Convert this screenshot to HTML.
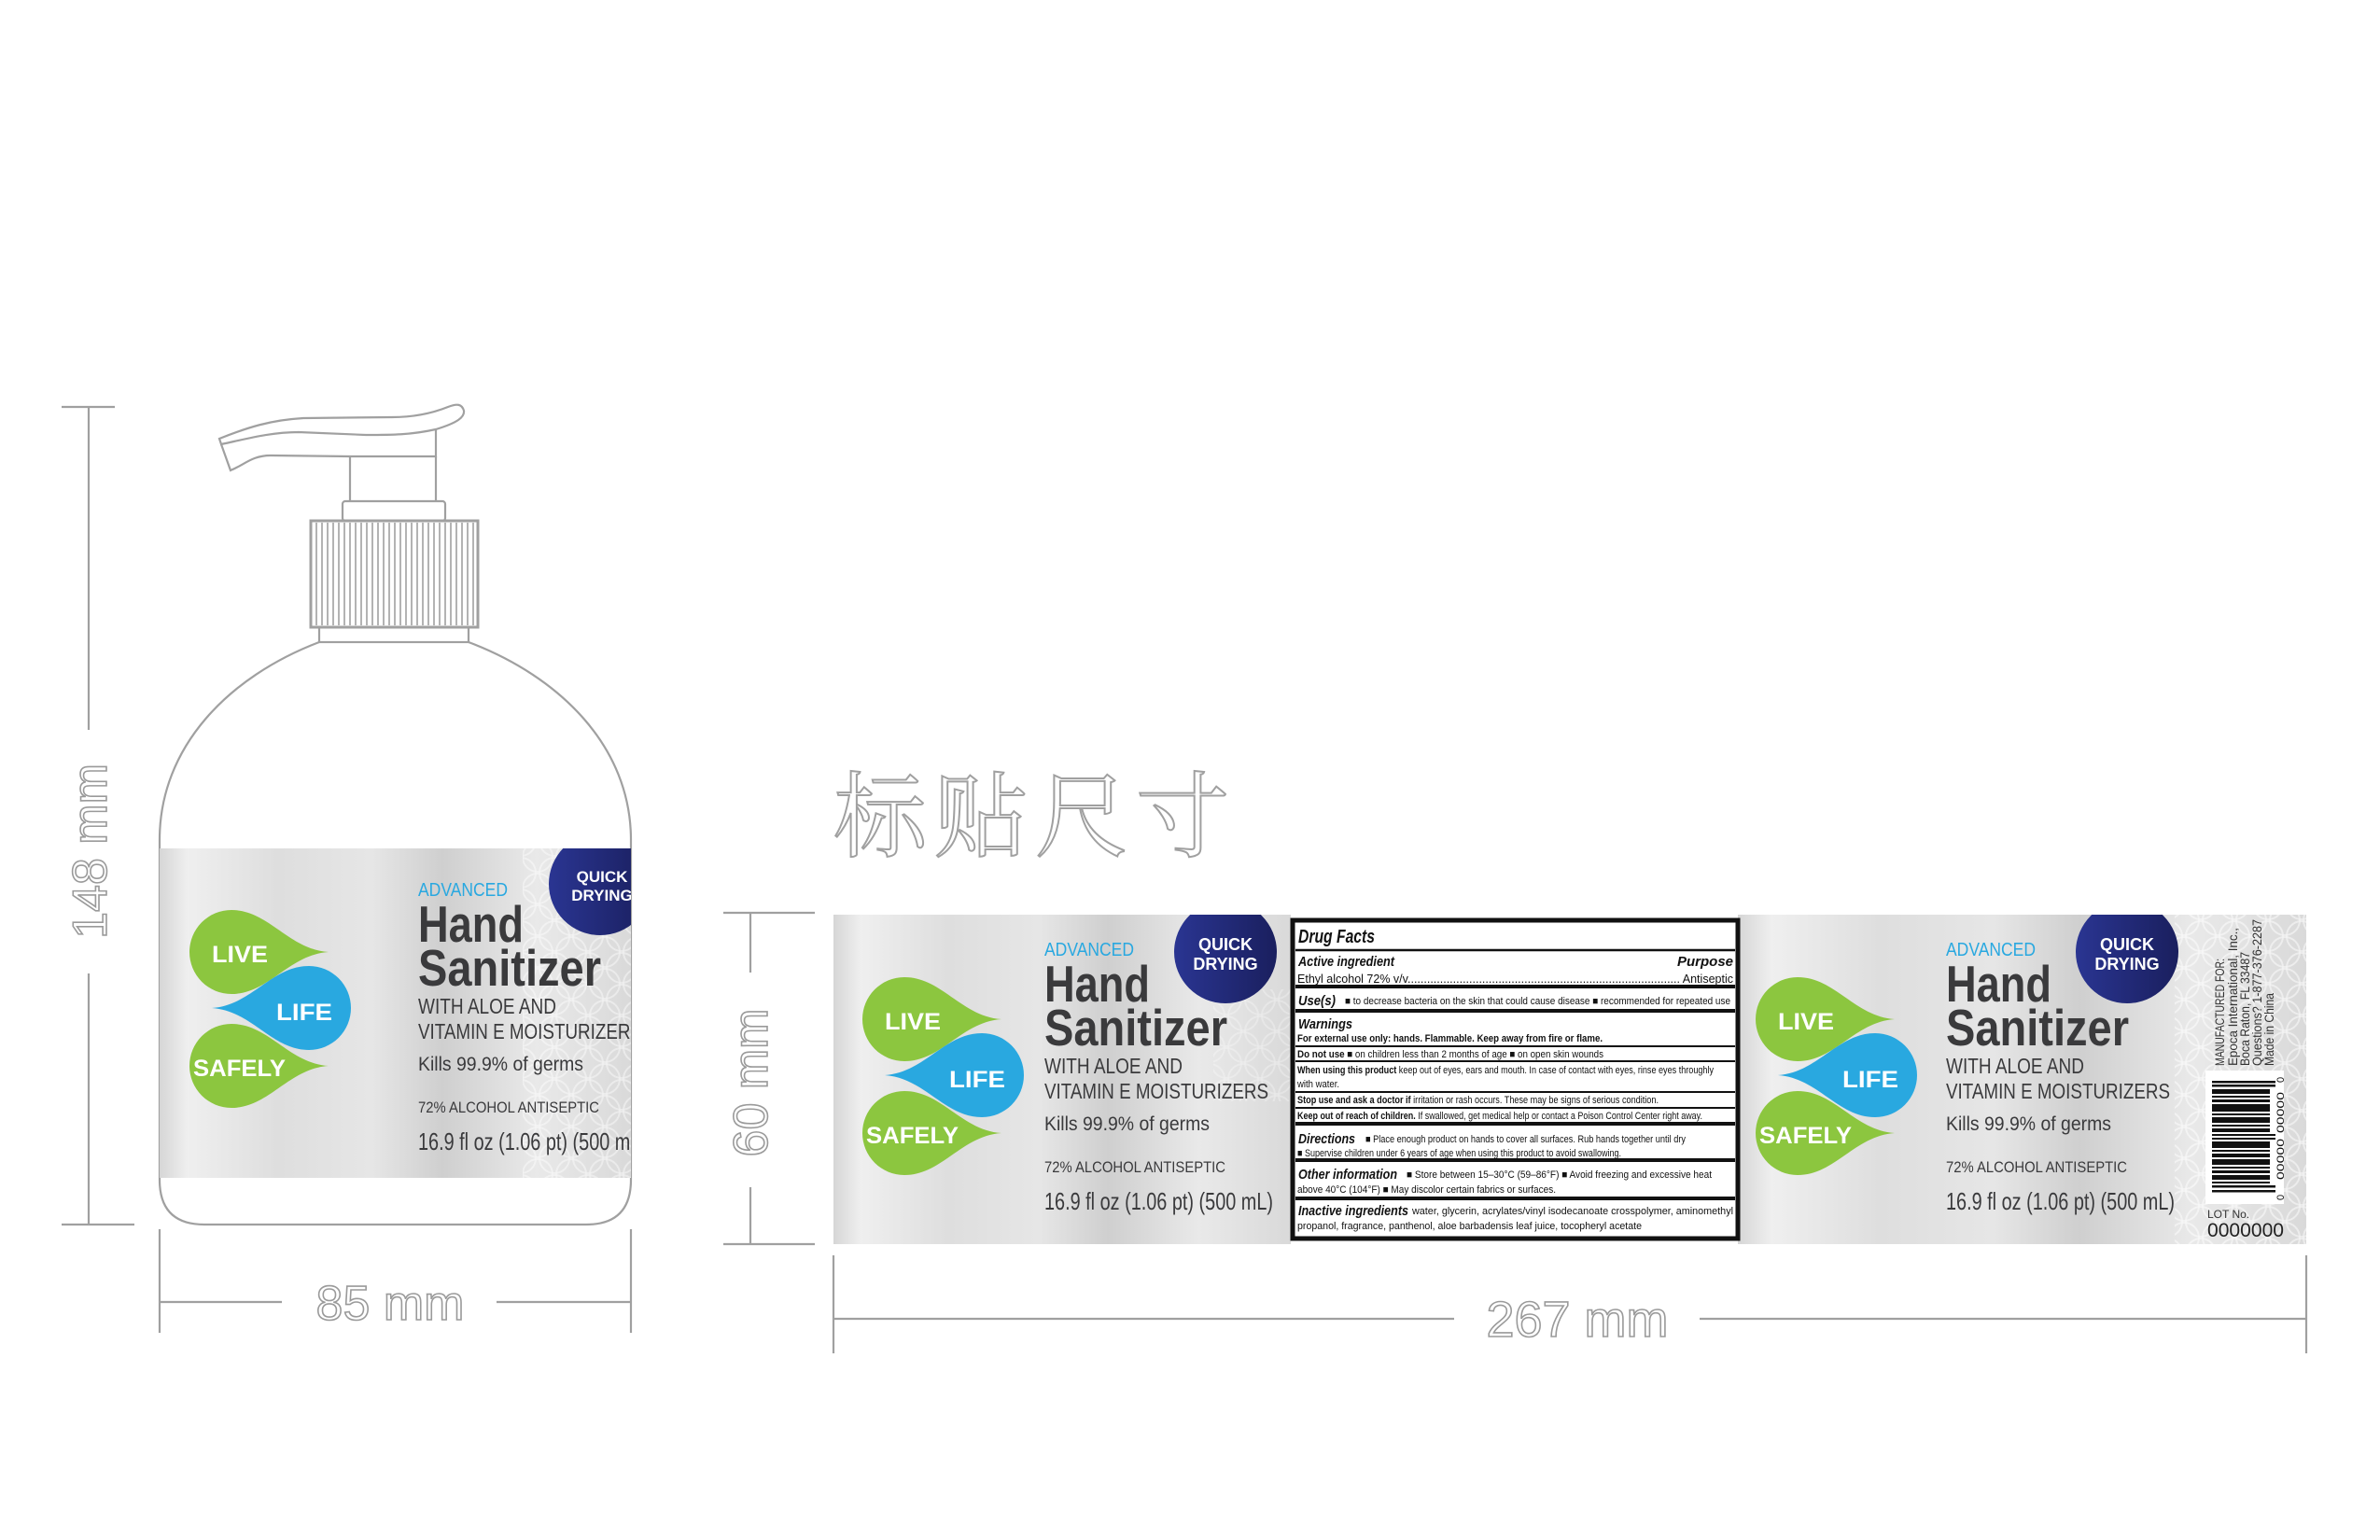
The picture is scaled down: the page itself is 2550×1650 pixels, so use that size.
<!DOCTYPE html>
<html><head><meta charset="utf-8"><style>
html,body{margin:0;padding:0;background:#fff;}
svg{display:block;}
.dim{stroke:#a0a0a0;stroke-width:2.2;fill:none;}
.dt{fill:#fff;stroke:#9a9a9a;stroke-width:1.6;font-family:"Liberation Sans",sans-serif;}
.df{font-family:"Liberation Sans Narrow","Liberation Sans",sans-serif;fill:#111;}
.lb{font-family:"Liberation Sans",sans-serif;fill:#3a3a3c;}
</style></head><body>
<svg width="2550" height="1650" viewBox="0 0 2550 1650" xmlns="http://www.w3.org/2000/svg">
<defs>
<linearGradient id="g1" x1="0" x2="1" y1="0" y2="0">
<stop offset="0" stop-color="#d6d6d6"/><stop offset="0.06" stop-color="#efefef"/>
<stop offset="0.25" stop-color="#dedede"/><stop offset="0.45" stop-color="#e6e6e6"/>
<stop offset="0.6" stop-color="#cfcfcf"/><stop offset="0.8" stop-color="#e9e9e9"/>
<stop offset="1" stop-color="#d9d9d9"/></linearGradient>
<linearGradient id="navy" x1="0" x2="1" y1="0" y2="0"><stop offset="0" stop-color="#2a3592"/><stop offset="1" stop-color="#1a1f5e"/></linearGradient>
<pattern id="hex" width="36" height="34" patternUnits="userSpaceOnUse">
<circle cx="18" cy="17" r="16" fill="none" stroke="#fff" stroke-width="2" opacity="0.7"/>
<circle cx="0" cy="0" r="16" fill="none" stroke="#fff" stroke-width="2" opacity="0.7"/>
<circle cx="36" cy="0" r="16" fill="none" stroke="#fff" stroke-width="2" opacity="0.7"/>
<circle cx="0" cy="34" r="16" fill="none" stroke="#fff" stroke-width="2" opacity="0.7"/>
<circle cx="36" cy="34" r="16" fill="none" stroke="#fff" stroke-width="2" opacity="0.7"/>
</pattern>
<clipPath id="bclip"><rect x="171" y="909" width="505" height="353"/></clipPath>
<clipPath id="sclip"><rect x="893" y="980" width="1578" height="353"/></clipPath>
</defs>

<!-- ===== Bottle ===== -->
<line class="dim" x1="66" y1="436" x2="123" y2="436"/>
<line class="dim" x1="66" y1="1312" x2="144" y2="1312"/>
<line class="dim" x1="95" y1="436" x2="95" y2="782"/>
<line class="dim" x1="95" y1="1043" x2="95" y2="1312"/>
<text class="dt" font-size="52" text-anchor="middle" transform="translate(114,912) rotate(-90)">148 mm</text>
<line class="dim" x1="171" y1="1317" x2="171" y2="1428"/>
<line class="dim" x1="676" y1="1317" x2="676" y2="1428"/>
<line class="dim" x1="171" y1="1395" x2="302" y2="1395"/>
<line class="dim" x1="532" y1="1395" x2="676" y2="1395"/>
<text class="dt" font-size="52" text-anchor="middle" x="418" y="1414">85 mm</text>

<!-- pump -->
<g class="dim" stroke-width="2.4">
<path d="M235,470 C265,458 290,450 325,448 L420,447 C450,447 470,440 480,436 C490,432 495,433 497,440 C498,447 490,453 467,460 C440,466 420,466 392,466 L320,463 C290,463 265,470 237,476 Z"/>
<path d="M237,476 L247,504 C262,498 270,488 290,488 L375,489 L467,489 L467,460"/>
<path d="M375,489 L375,537 M467,489 L467,537"/>
<rect x="367" y="537" width="110" height="21" rx="3"/>
<rect x="333" y="558" width="179" height="114" stroke-width="3"/>
<rect x="342" y="672" width="160" height="16"/>
</g>
<g stroke="#a0a0a0" stroke-width="1.6">
<line x1="339" y1="560" x2="339" y2="670"/><line x1="345" y1="560" x2="345" y2="670"/><line x1="351" y1="560" x2="351" y2="670"/><line x1="357" y1="560" x2="357" y2="670"/><line x1="363" y1="560" x2="363" y2="670"/><line x1="369" y1="560" x2="369" y2="670"/><line x1="375" y1="560" x2="375" y2="670"/><line x1="381" y1="560" x2="381" y2="670"/><line x1="387" y1="560" x2="387" y2="670"/><line x1="393" y1="560" x2="393" y2="670"/><line x1="399" y1="560" x2="399" y2="670"/><line x1="405" y1="560" x2="405" y2="670"/><line x1="411" y1="560" x2="411" y2="670"/><line x1="417" y1="560" x2="417" y2="670"/><line x1="423" y1="560" x2="423" y2="670"/><line x1="429" y1="560" x2="429" y2="670"/><line x1="435" y1="560" x2="435" y2="670"/><line x1="441" y1="560" x2="441" y2="670"/><line x1="447" y1="560" x2="447" y2="670"/><line x1="453" y1="560" x2="453" y2="670"/><line x1="459" y1="560" x2="459" y2="670"/><line x1="465" y1="560" x2="465" y2="670"/><line x1="471" y1="560" x2="471" y2="670"/><line x1="477" y1="560" x2="477" y2="670"/><line x1="483" y1="560" x2="483" y2="670"/><line x1="489" y1="560" x2="489" y2="670"/><line x1="495" y1="560" x2="495" y2="670"/><line x1="501" y1="560" x2="501" y2="670"/><line x1="507" y1="560" x2="507" y2="670"/>
</g>
<path class="dim" d="M342,688 C245,725 171,800 171,900 L171,1264 Q171,1312 219,1312 L628,1312 Q676,1312 676,1264 L676,900 C676,800 600,725 502,688"/>

<!-- bottle label -->
<g clip-path="url(#bclip)">
<rect x="171" y="909" width="505" height="353" fill="url(#g1)"/>
<rect x="560" y="909" width="116" height="353" fill="url(#hex)" opacity="0.6"/>
<g transform="translate(-721,-72)">
<path d="M924,1092 A45,45 0 0 1 969,1047 C1009,1047 1030,1089 1073,1092 C1030,1095 1009,1137 969,1137 A45,45 0 0 1 924,1092 Z" fill="#8cc63f"/>
<path d="M1097,1152 A45,45 0 0 0 1052,1107 C1012,1107 991,1149 948,1152 C991,1155 1012,1197 1052,1197 A45,45 0 0 0 1097,1152 Z" fill="#29a8e0"/>
<path d="M924,1214 A45,45 0 0 1 969,1169 C1009,1169 1030,1211 1073,1214 C1030,1217 1009,1259 969,1259 A45,45 0 0 1 924,1214 Z" fill="#8cc63f"/>
<g font-family="Liberation Sans,sans-serif" font-weight="bold" fill="#fff" font-size="25">
<text x="948" y="1103" textLength="60" lengthAdjust="spacingAndGlyphs">LIVE</text>
<text x="1017" y="1165" textLength="60" lengthAdjust="spacingAndGlyphs">LIFE</text>
<text x="928" y="1225" textLength="99" lengthAdjust="spacingAndGlyphs">SAFELY</text>
</g></g>
<g transform="translate(-671,-64)" class="lb">
<text x="1119" y="1024" font-size="20" fill="#29a8e0" textLength="96" lengthAdjust="spacingAndGlyphs">ADVANCED</text>
<text x="1119" y="1073" font-size="55" font-weight="bold" textLength="113" lengthAdjust="spacingAndGlyphs">Hand</text>
<text x="1119" y="1120" font-size="55" font-weight="bold" textLength="196" lengthAdjust="spacingAndGlyphs">Sanitizer</text>
<text x="1119" y="1150" font-size="23" textLength="148" lengthAdjust="spacingAndGlyphs">WITH ALOE AND</text>
<text x="1119" y="1177" font-size="23" textLength="240" lengthAdjust="spacingAndGlyphs">VITAMIN E MOISTURIZERS</text>
<text x="1119" y="1211" font-size="21" textLength="177" lengthAdjust="spacingAndGlyphs">Kills 99.9% of germs</text>
<text x="1119" y="1256" font-size="17" textLength="194" lengthAdjust="spacingAndGlyphs">72% ALCOHOL ANTISEPTIC</text>
<text x="1119" y="1296" font-size="26" textLength="245" lengthAdjust="spacingAndGlyphs">16.9 fl oz (1.06 pt) (500 mL)</text>
</g>
<circle cx="643" cy="947" r="55" fill="url(#navy)"/>
<g font-family="Liberation Sans,sans-serif" font-weight="bold" fill="#fff" font-size="17" text-anchor="middle">
<text x="645" y="945">QUICK</text><text x="645" y="965">DRYING</text></g>
</g>

<!-- Chinese title -->
<text x="893" y="910" font-family="'Noto Serif CJK SC',serif" font-size="100" letter-spacing="8" fill="#fff" stroke="#a0a0a0" stroke-width="2">标贴尺寸</text>

<!-- ===== Strip dims ===== -->
<line class="dim" x1="775" y1="978" x2="873" y2="978"/>
<line class="dim" x1="775" y1="1333" x2="873" y2="1333"/>
<line class="dim" x1="804" y1="978" x2="804" y2="1042"/>
<line class="dim" x1="804" y1="1272" x2="804" y2="1333"/>
<text class="dt" font-size="52" text-anchor="middle" transform="translate(822,1160) rotate(-90)">60 mm</text>
<line class="dim" x1="893" y1="1345" x2="893" y2="1450"/>
<line class="dim" x1="2471" y1="1345" x2="2471" y2="1450"/>
<line class="dim" x1="893" y1="1413" x2="1558" y2="1413"/>
<line class="dim" x1="1821" y1="1413" x2="2471" y2="1413"/>
<text class="dt" font-size="54" text-anchor="middle" x="1690" y="1432">267 mm</text>

<!-- ===== Strip ===== -->
<g clip-path="url(#sclip)">
<rect x="893" y="980" width="490" height="353" fill="url(#g1)"/>
<rect x="1862" y="980" width="609" height="353" fill="url(#g1)"/>
<rect x="2330" y="980" width="141" height="353" fill="url(#hex)" opacity="0.7"/>
<rect x="1300" y="1060" width="83" height="120" fill="url(#hex)" opacity="0.4"/>

<g>
<path d="M924,1092 A45,45 0 0 1 969,1047 C1009,1047 1030,1089 1073,1092 C1030,1095 1009,1137 969,1137 A45,45 0 0 1 924,1092 Z" fill="#8cc63f"/>
<path d="M1097,1152 A45,45 0 0 0 1052,1107 C1012,1107 991,1149 948,1152 C991,1155 1012,1197 1052,1197 A45,45 0 0 0 1097,1152 Z" fill="#29a8e0"/>
<path d="M924,1214 A45,45 0 0 1 969,1169 C1009,1169 1030,1211 1073,1214 C1030,1217 1009,1259 969,1259 A45,45 0 0 1 924,1214 Z" fill="#8cc63f"/>
<g font-family="Liberation Sans,sans-serif" font-weight="bold" fill="#fff" font-size="25">
<text x="948" y="1103" textLength="60" lengthAdjust="spacingAndGlyphs">LIVE</text>
<text x="1017" y="1165" textLength="60" lengthAdjust="spacingAndGlyphs">LIFE</text>
<text x="928" y="1225" textLength="99" lengthAdjust="spacingAndGlyphs">SAFELY</text>
</g>
<g class="lb">
<text x="1119" y="1024" font-size="20" fill="#29a8e0" textLength="96" lengthAdjust="spacingAndGlyphs">ADVANCED</text>
<text x="1119" y="1073" font-size="55" font-weight="bold" textLength="113" lengthAdjust="spacingAndGlyphs">Hand</text>
<text x="1119" y="1120" font-size="55" font-weight="bold" textLength="196" lengthAdjust="spacingAndGlyphs">Sanitizer</text>
<text x="1119" y="1150" font-size="23" textLength="148" lengthAdjust="spacingAndGlyphs">WITH ALOE AND</text>
<text x="1119" y="1177" font-size="23" textLength="240" lengthAdjust="spacingAndGlyphs">VITAMIN E MOISTURIZERS</text>
<text x="1119" y="1211" font-size="21" textLength="177" lengthAdjust="spacingAndGlyphs">Kills 99.9% of germs</text>
<text x="1119" y="1256" font-size="17" textLength="194" lengthAdjust="spacingAndGlyphs">72% ALCOHOL ANTISEPTIC</text>
<text x="1119" y="1296" font-size="26" textLength="245" lengthAdjust="spacingAndGlyphs">16.9 fl oz (1.06 pt) (500 mL)</text>
</g>
<circle cx="1313" cy="1020" r="55" fill="url(#navy)"/>
<g font-family="Liberation Sans,sans-serif" font-weight="bold" fill="#fff" font-size="18" text-anchor="middle">
<text x="1313" y="1018">QUICK</text><text x="1313" y="1039">DRYING</text></g>
</g>

<!-- right panel copy -->
<g transform="translate(957,0)">
<path d="M924,1092 A45,45 0 0 1 969,1047 C1009,1047 1030,1089 1073,1092 C1030,1095 1009,1137 969,1137 A45,45 0 0 1 924,1092 Z" fill="#8cc63f"/>
<path d="M1097,1152 A45,45 0 0 0 1052,1107 C1012,1107 991,1149 948,1152 C991,1155 1012,1197 1052,1197 A45,45 0 0 0 1097,1152 Z" fill="#29a8e0"/>
<path d="M924,1214 A45,45 0 0 1 969,1169 C1009,1169 1030,1211 1073,1214 C1030,1217 1009,1259 969,1259 A45,45 0 0 1 924,1214 Z" fill="#8cc63f"/>
<g font-family="Liberation Sans,sans-serif" font-weight="bold" fill="#fff" font-size="25">
<text x="948" y="1103" textLength="60" lengthAdjust="spacingAndGlyphs">LIVE</text>
<text x="1017" y="1165" textLength="60" lengthAdjust="spacingAndGlyphs">LIFE</text>
<text x="928" y="1225" textLength="99" lengthAdjust="spacingAndGlyphs">SAFELY</text>
</g></g>
<g transform="translate(966,0)">
<g class="lb">
<text x="1119" y="1024" font-size="20" fill="#29a8e0" textLength="96" lengthAdjust="spacingAndGlyphs">ADVANCED</text>
<text x="1119" y="1073" font-size="55" font-weight="bold" textLength="113" lengthAdjust="spacingAndGlyphs">Hand</text>
<text x="1119" y="1120" font-size="55" font-weight="bold" textLength="196" lengthAdjust="spacingAndGlyphs">Sanitizer</text>
<text x="1119" y="1150" font-size="23" textLength="148" lengthAdjust="spacingAndGlyphs">WITH ALOE AND</text>
<text x="1119" y="1177" font-size="23" textLength="240" lengthAdjust="spacingAndGlyphs">VITAMIN E MOISTURIZERS</text>
<text x="1119" y="1211" font-size="21" textLength="177" lengthAdjust="spacingAndGlyphs">Kills 99.9% of germs</text>
<text x="1119" y="1256" font-size="17" textLength="194" lengthAdjust="spacingAndGlyphs">72% ALCOHOL ANTISEPTIC</text>
<text x="1119" y="1296" font-size="26" textLength="245" lengthAdjust="spacingAndGlyphs">16.9 fl oz (1.06 pt) (500 mL)</text>
</g>
<circle cx="1313" cy="1020" r="55" fill="url(#navy)"/>
<g font-family="Liberation Sans,sans-serif" font-weight="bold" fill="#fff" font-size="18" text-anchor="middle">
<text x="1313" y="1018">QUICK</text><text x="1313" y="1039">DRYING</text></g>
</g>

<g font-family="Liberation Sans,sans-serif" font-size="14" fill="#333">
<text transform="translate(2383,1142) rotate(-90)" textLength="115" lengthAdjust="spacingAndGlyphs">MANUFACTURED FOR:</text>
<text transform="translate(2397,1142) rotate(-90)" textLength="148" lengthAdjust="spacingAndGlyphs">Epoca International, Inc.,</text>
<text transform="translate(2410,1142) rotate(-90)" textLength="122" lengthAdjust="spacingAndGlyphs">Boca Raton,  FL 33487</text>
<text transform="translate(2423,1142) rotate(-90)" textLength="157" lengthAdjust="spacingAndGlyphs">Questions? 1-877-376-2287</text>
<text transform="translate(2436,1142) rotate(-90)" textLength="78" lengthAdjust="spacingAndGlyphs">Made in China</text>
</g>
<rect x="2363" y="1147" width="84" height="143" fill="#fff"/>
<g fill="#111">
<rect x="2370" y="1158" width="68" height="2.5"/><rect x="2370" y="1162" width="68" height="2.5"/>
<rect x="2370" y="1167" width="62" height="5"/><rect x="2370" y="1174" width="62" height="2"/>
<rect x="2370" y="1178" width="62" height="3"/><rect x="2370" y="1183" width="62" height="8"/>
<rect x="2370" y="1193" width="62" height="2"/><rect x="2370" y="1197" width="62" height="6"/>
<rect x="2370" y="1205" width="62" height="2"/><rect x="2370" y="1209" width="62" height="4"/>
<rect x="2370" y="1215" width="68" height="2"/><rect x="2370" y="1219" width="68" height="2"/>
<rect x="2370" y="1223" width="62" height="7"/><rect x="2370" y="1232" width="62" height="2"/>
<rect x="2370" y="1236" width="62" height="4"/><rect x="2370" y="1242" width="62" height="6"/>
<rect x="2370" y="1250" width="62" height="2"/><rect x="2370" y="1254" width="62" height="3"/>
<rect x="2370" y="1259" width="62" height="5"/><rect x="2370" y="1266" width="62" height="2"/>
<rect x="2370" y="1270" width="68" height="2.5"/><rect x="2370" y="1275" width="68" height="2.5"/>
</g>
<g font-family="Liberation Sans,sans-serif" font-size="11" fill="#111">
<text transform="translate(2447,1286) rotate(-90)">0</text>
<text transform="translate(2447,1264) rotate(-90)" textLength="44" lengthAdjust="spacingAndGlyphs">00000</text>
<text transform="translate(2447,1214) rotate(-90)" textLength="44" lengthAdjust="spacingAndGlyphs">00000</text>
<text transform="translate(2447,1160) rotate(-90)">0</text>
</g>
<text x="2365" y="1305" font-family="Liberation Sans,sans-serif" font-size="12" fill="#333">LOT No.</text>
<text x="2365" y="1325" font-family="Liberation Sans,sans-serif" font-size="21" fill="#222" textLength="82" lengthAdjust="spacingAndGlyphs">0000000</text>
</g>

<!-- ===== Drug Facts box ===== -->
<rect x="1385" y="986" width="477" height="341" fill="#fff" stroke="#111" stroke-width="5"/>
<g stroke="#111">
<line x1="1388" y1="1018" x2="1859" y2="1018" stroke-width="2.5"/>
<line x1="1388" y1="1057" x2="1859" y2="1057" stroke-width="4"/>
<line x1="1388" y1="1083" x2="1859" y2="1083" stroke-width="4"/>
<line x1="1388" y1="1121" x2="1859" y2="1121" stroke-width="2"/>
<line x1="1388" y1="1137" x2="1859" y2="1137" stroke-width="2"/>
<line x1="1388" y1="1170" x2="1859" y2="1170" stroke-width="2"/>
<line x1="1388" y1="1187" x2="1859" y2="1187" stroke-width="2"/>
<line x1="1388" y1="1204" x2="1859" y2="1204" stroke-width="4"/>
<line x1="1388" y1="1243" x2="1859" y2="1243" stroke-width="4"/>
<line x1="1388" y1="1284" x2="1859" y2="1284" stroke-width="4"/>
</g>
<g class="df">
<text x="1391" y="1010" font-size="20" font-weight="bold" font-style="italic" textLength="82" lengthAdjust="spacingAndGlyphs">Drug Facts</text>
<text x="1391" y="1035" font-size="15" font-weight="bold" font-style="italic" textLength="103" lengthAdjust="spacingAndGlyphs">Active ingredient</text>
<text x="1857" y="1035" font-size="15" font-weight="bold" font-style="italic" text-anchor="end">Purpose</text>
<text x="1390" y="1053" font-size="13" textLength="467" lengthAdjust="spacingAndGlyphs">Ethyl alcohol 72% v/v.................................................................................... Antiseptic</text>
<text x="1391" y="1077" font-size="15" font-weight="bold" font-style="italic" textLength="40" lengthAdjust="spacingAndGlyphs">Use(s)</text>
<text x="1441" y="1076" font-size="11" textLength="413" lengthAdjust="spacingAndGlyphs">■ to decrease bacteria on the skin that could cause disease   ■ recommended for repeated use</text>
<text x="1391" y="1102" font-size="15" font-weight="bold" font-style="italic" textLength="58" lengthAdjust="spacingAndGlyphs">Warnings</text>
<text x="1390" y="1116" font-size="11" font-weight="bold" textLength="327" lengthAdjust="spacingAndGlyphs">For external use only: hands.  Flammable. Keep away from fire or flame.</text>
<text x="1390" y="1133" font-size="11" textLength="328" lengthAdjust="spacingAndGlyphs"><tspan font-weight="bold">Do not use</tspan>   ■ on children less than 2 months of age   ■ on open skin wounds</text>
<text x="1390" y="1150" font-size="11" textLength="446" lengthAdjust="spacingAndGlyphs"><tspan font-weight="bold">When using this product</tspan> keep out of eyes, ears and mouth. In case of contact with eyes, rinse eyes throughly</text>
<text x="1390" y="1165" font-size="11" textLength="45" lengthAdjust="spacingAndGlyphs">with water.</text>
<text x="1390" y="1182" font-size="11" textLength="387" lengthAdjust="spacingAndGlyphs"><tspan font-weight="bold">Stop use and ask a doctor if</tspan> irritation or rash occurs. These may be signs of serious condition.</text>
<text x="1390" y="1199" font-size="11" textLength="434" lengthAdjust="spacingAndGlyphs"><tspan font-weight="bold">Keep out of reach of children.</tspan>  If swallowed, get medical help or contact a Poison Control Center right away.</text>
<text x="1391" y="1225" font-size="15" font-weight="bold" font-style="italic" textLength="61" lengthAdjust="spacingAndGlyphs">Directions</text>
<text x="1463" y="1224" font-size="11" textLength="343" lengthAdjust="spacingAndGlyphs">■ Place enough product on hands to cover all surfaces. Rub hands together until dry</text>
<text x="1390" y="1239" font-size="11" textLength="347" lengthAdjust="spacingAndGlyphs">■ Supervise children under 6 years of age when using this product to avoid swallowing.</text>
<text x="1391" y="1263" font-size="15" font-weight="bold" font-style="italic" textLength="106" lengthAdjust="spacingAndGlyphs">Other information</text>
<text x="1507" y="1262" font-size="11" textLength="327" lengthAdjust="spacingAndGlyphs">■ Store between 15–30°C (59–86°F)  ■ Avoid freezing and excessive heat</text>
<text x="1390" y="1278" font-size="11" textLength="277" lengthAdjust="spacingAndGlyphs">above 40°C (104°F)  ■ May discolor certain fabrics or surfaces.</text>
<text x="1391" y="1302" font-size="15" font-weight="bold" font-style="italic" textLength="118" lengthAdjust="spacingAndGlyphs">Inactive ingredients</text>
<text x="1513" y="1301" font-size="11" textLength="344" lengthAdjust="spacingAndGlyphs">water, glycerin, acrylates/vinyl isodecanoate crosspolymer, aminomethyl</text>
<text x="1390" y="1317" font-size="11" textLength="369" lengthAdjust="spacingAndGlyphs">propanol, fragrance, panthenol, aloe barbadensis leaf juice, tocopheryl acetate</text>
</g>
</svg>
</body></html>
